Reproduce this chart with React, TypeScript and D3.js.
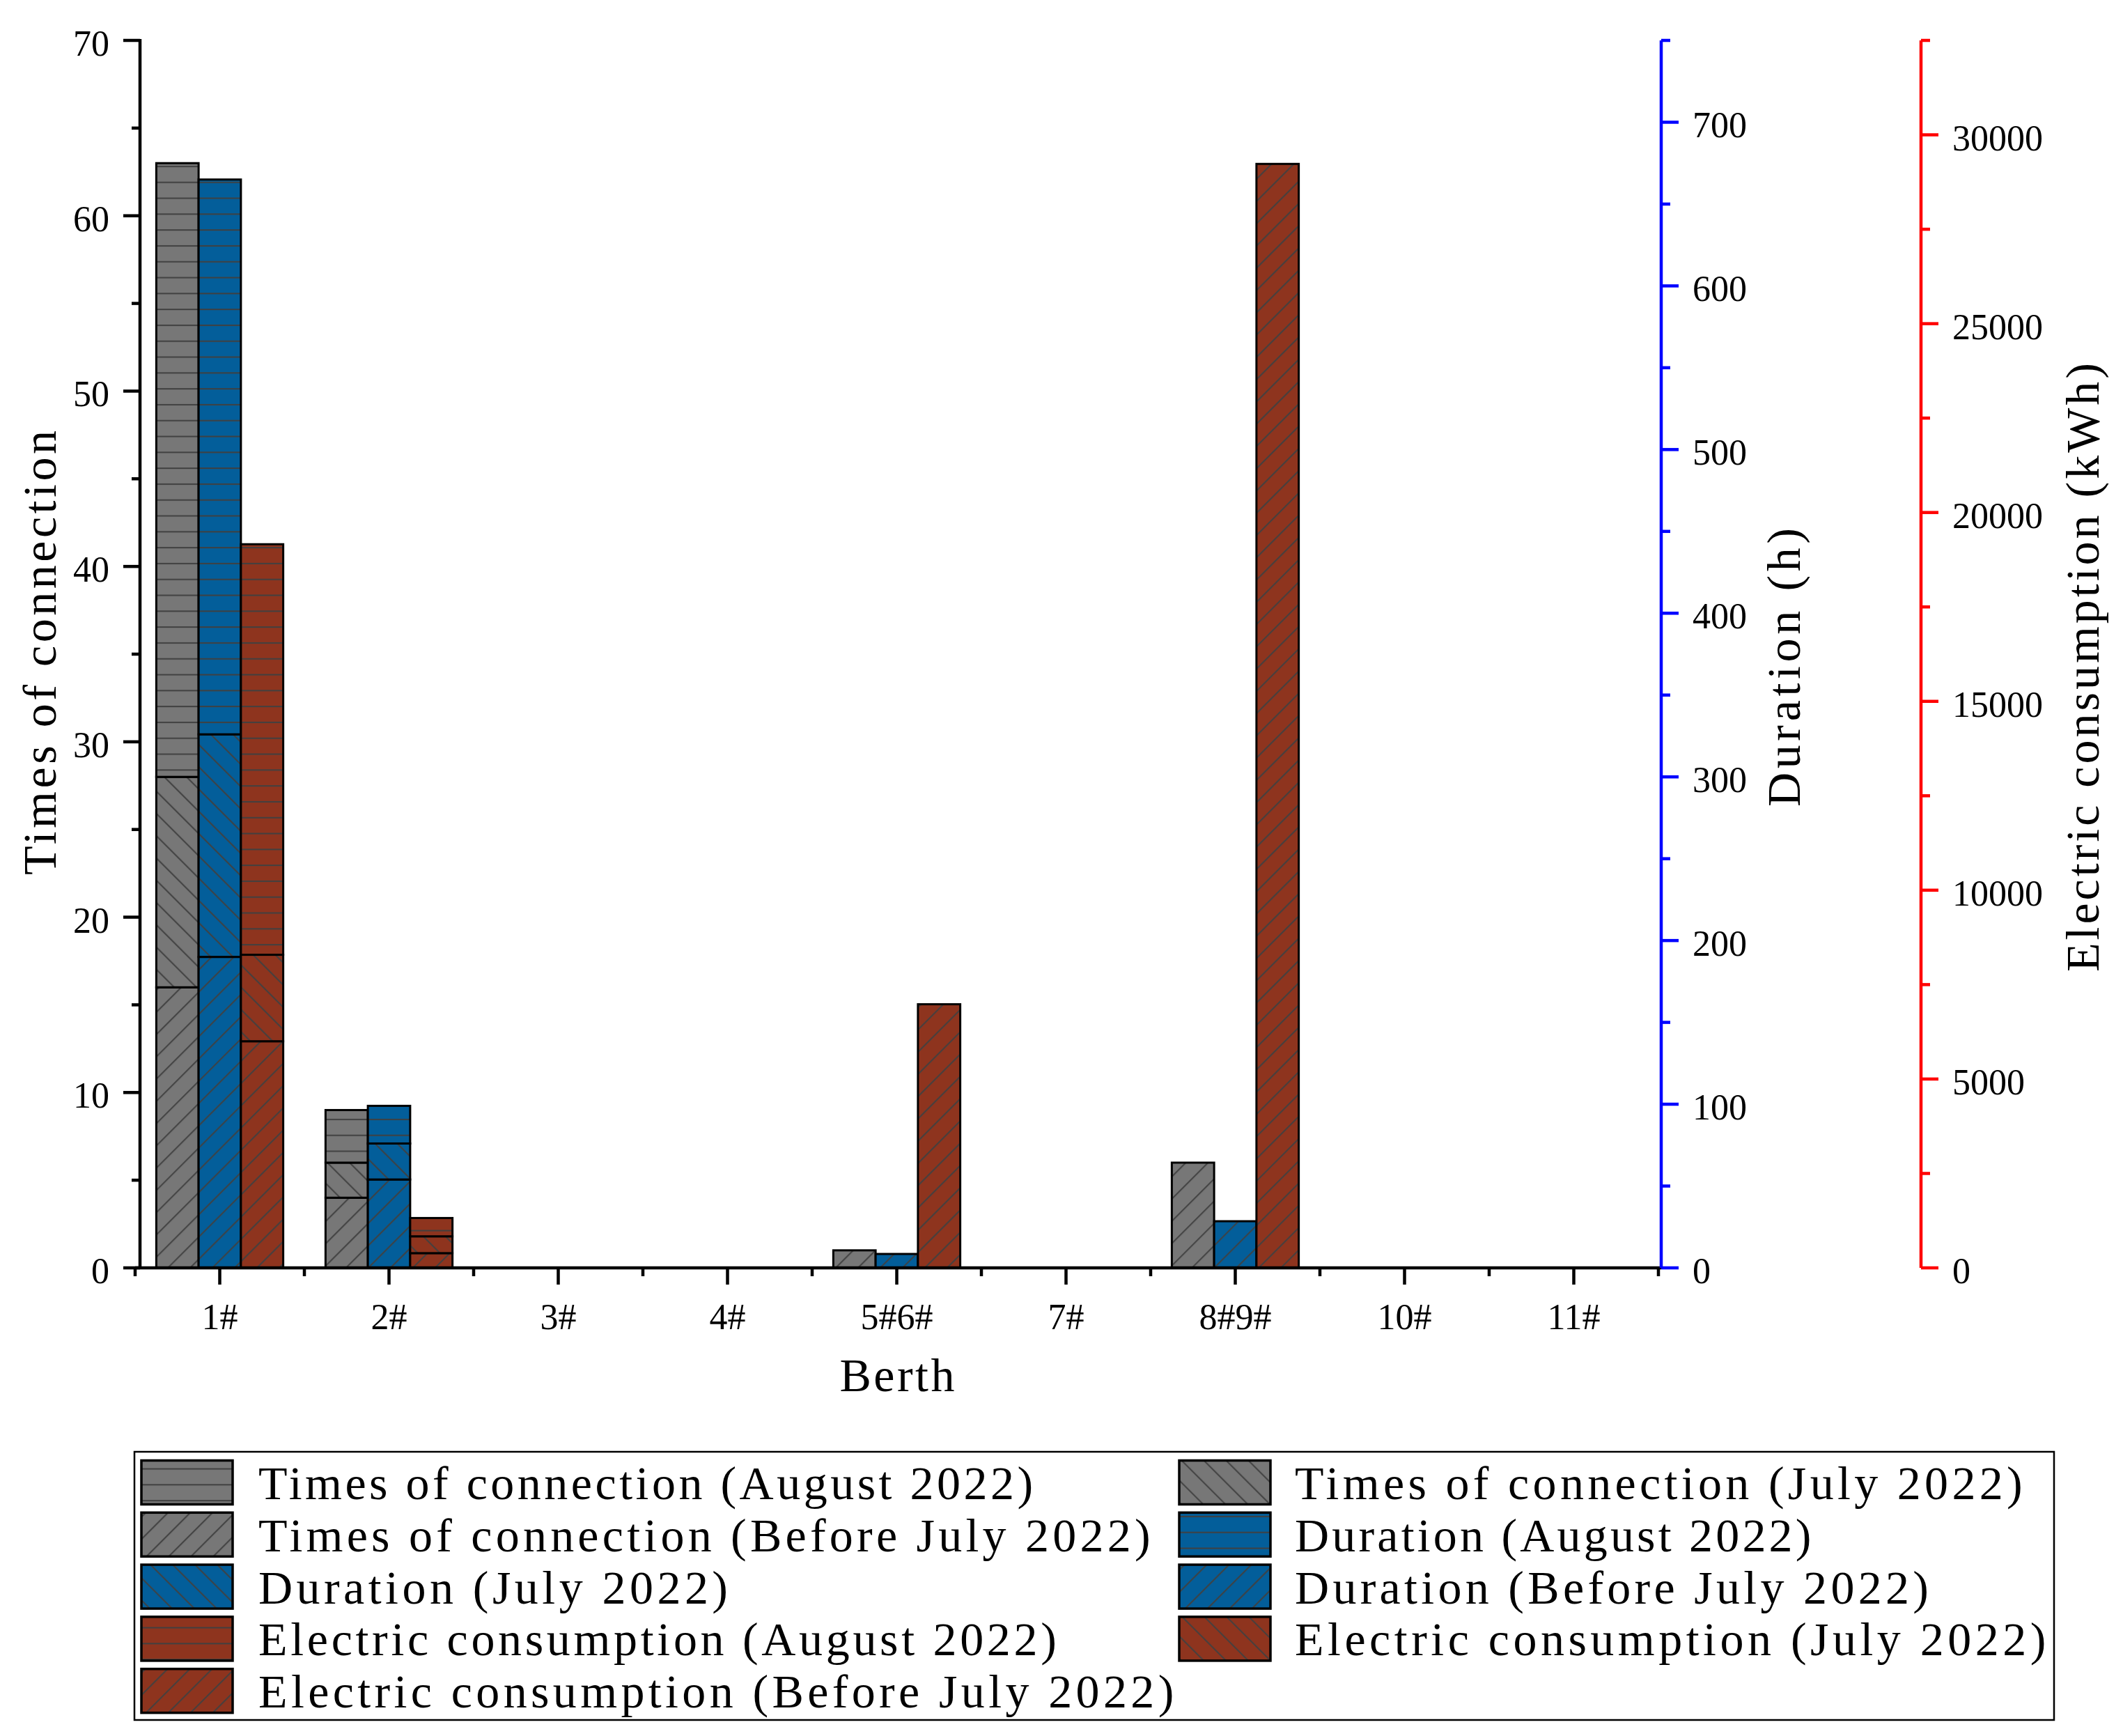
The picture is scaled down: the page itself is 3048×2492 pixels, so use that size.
import React from "react";
import * as d3 from "d3";

const categories = ["1#", "2#", "3#", "4#", "5#6#", "7#", "8#9#", "10#", "11#"];

// Times of connection
const timesBefore = [16, 4, 0, 0, 1, 0, 6, 0, 0];
const timesJuly = [12, 2, 0, 0, 0, 0, 0, 0, 0];
const timesAug = [35, 3, 0, 0, 0, 0, 0, 0, 0];
// Duration (h)
const durBefore = [190, 54, 0, 0, 8.5, 0, 28.5, 0, 0];
const durJuly = [136, 22, 0, 0, 0, 0, 0, 0, 0];
const durAug = [339, 23, 0, 0, 0, 0, 0, 0, 0];
// Electric consumption (kWh)
const elecBefore = [6000, 390, 0, 0, 6980, 0, 29230, 0, 0];
const elecJuly = [2290, 445, 0, 0, 0, 0, 0, 0, 0];
const elecAug = [10870, 485, 0, 0, 0, 0, 0, 0, 0];

const countTicks = [0, 10, 20, 30, 40, 50, 60, 70];
const durTicks = [0, 100, 200, 300, 400, 500, 600, 700];
const elecTicks = [0, 5000, 10000, 15000, 20000, 25000, 30000];

const legendLabels = [
  "Times of connection (August 2022)",
  "Times of connection (July 2022)",
  "Times of connection (Before July 2022)",
  "Duration (August 2022)",
  "Duration (July 2022)",
  "Duration (Before July 2022)",
  "Electric consumption (August 2022)",
  "Electric consumption (July 2022)",
  "Electric consumption (Before July 2022)",
];

const GRAY = "#777777";
const BLUE = "#035E9A";
const RED = "#8E341E";
const HATCH = "#404040";
const FONT = "'Liberation Serif', 'Times New Roman', serif";

const W = 3048;
const H = 2492;
const X0 = 194;
const X1 = 2381;
const YTOP = 58;
const YBOT = 1820;
const YAXIS_X = 201;
const BLUE_X = 2385;
const RED_X = 2758;

const x = d3.scaleBand<string>().domain(categories).range([X0, X1]).padding(0);
const yCount = d3.scaleLinear().domain([0, 70]).range([YBOT, YTOP]);
const yDur = d3.scaleLinear().domain([0, 750]).range([YBOT, YTOP]);
const yElec = d3.scaleLinear().domain([0, 32500]).range([YBOT, YTOP]);

const patterns = ["hatchH", "hatchBack", "hatchFwd"]; // August, July, Before July

type Group = { scale: d3.ScaleLinear<number, number>; color: string; series: number[][]; offset: number };

const groups: Group[] = [
  { scale: yCount, color: GRAY, series: [timesBefore, timesJuly, timesAug], offset: -1 },
  { scale: yDur, color: BLUE, series: [durBefore, durJuly, durAug], offset: 0 },
  { scale: yElec, color: RED, series: [elecBefore, elecJuly, elecAug], offset: 1 },
];
// series order: bottom Before (fwd "/"), middle July ("\"), top August (horizontal)
const segPattern = ["hatchFwd", "hatchBack", "hatchH"];

function Bars() {
  const bw = x.bandwidth() * 0.25;
  const out: React.ReactNode[] = [];
  groups.forEach((g, gi) => {
    categories.forEach((c, ci) => {
      const cx = (x(c) as number) + x.bandwidth() / 2;
      const left = cx + g.offset * bw - bw / 2;
      let base = 0;
      g.series.forEach((s, si) => {
        const v = s[ci];
        if (v <= 0) return;
        const y0 = g.scale(base);
        const y1 = g.scale(base + v);
        base += v;
        const key = `${gi}-${ci}-${si}`;
        out.push(
          <g key={key}>
            <rect x={left} y={y1} width={bw} height={y0 - y1} fill={g.color} />
            <rect x={left} y={y1} width={bw} height={y0 - y1} fill={`url(#${segPattern[si]})`} />
            <rect x={left} y={y1} width={bw} height={y0 - y1} fill="none" stroke="#000" strokeWidth={3} />
          </g>
        );
      });
    });
  });
  return <g>{out}</g>;
}

function App() {
  const minorCount = d3.range(0, 71, 5).filter((v) => v % 10 !== 0);
  const minorDur = d3.range(0, 751, 50).filter((v) => v % 100 !== 0);
  const minorElec = d3.range(0, 32501, 2500).filter((v) => v % 5000 !== 0);
  const bandEdges = d3.range(0, categories.length + 1).map((i) => X0 + i * x.step());

  const legendColors = [GRAY, GRAY, GRAY, BLUE, BLUE, BLUE, RED, RED, RED];
  const legendPats = ["hatchH", "hatchBack", "hatchFwd", "hatchH", "hatchBack", "hatchFwd", "hatchH", "hatchBack", "hatchFwd"];

  return (
    <svg
      width={W}
      height={H}
      viewBox={`0 0 ${W} ${H}`}
      style={{ position: "absolute", left: 0, top: 0, background: "#fff" }}
      xmlns="http://www.w3.org/2000/svg"
    >
      <defs>
        <pattern id="hatchH" patternUnits="userSpaceOnUse" width={20} height={22.8}>
          <line x1={0} y1={11} x2={20} y2={11} stroke={HATCH} strokeWidth={2} />
        </pattern>
        <pattern id="hatchFwd" patternUnits="userSpaceOnUse" width={22.6} height={20} patternTransform="rotate(45)">
          <line x1={11} y1={0} x2={11} y2={20} stroke={HATCH} strokeWidth={2} />
        </pattern>
        <pattern id="hatchBack" patternUnits="userSpaceOnUse" width={22.6} height={20} patternTransform="rotate(-45)">
          <line x1={11} y1={0} x2={11} y2={20} stroke={HATCH} strokeWidth={2} />
        </pattern>
      </defs>
      <rect x={0} y={0} width={W} height={H} fill="#fff" />

      <Bars />

      {/* Left axis */}
      <g stroke="#000" strokeWidth={4.5}>
        <line x1={YAXIS_X} y1={YTOP - 2} x2={YAXIS_X} y2={YBOT + 2} />
        <line x1={X0} y1={YBOT} x2={BLUE_X} y2={YBOT} />
        {countTicks.map((t) => (
          <line key={`ct${t}`} x1={YAXIS_X - 24} y1={yCount(t)} x2={YAXIS_X} y2={yCount(t)} />
        ))}
        {minorCount.map((t) => (
          <line key={`cm${t}`} x1={YAXIS_X - 12} y1={yCount(t)} x2={YAXIS_X} y2={yCount(t)} />
        ))}
        {categories.map((c) => {
          const cx = (x(c) as number) + x.bandwidth() / 2;
          return <line key={`xt${c}`} x1={cx} y1={YBOT} x2={cx} y2={YBOT + 24} />;
        })}
        {bandEdges.map((e, i) => (
          <line key={`xm${i}`} x1={e} y1={YBOT} x2={e} y2={YBOT + 12} />
        ))}
      </g>
      <g fontFamily={FONT} fontSize={52} fill="#000">
        {countTicks.map((t) => (
          <text key={`cl${t}`} x={157} y={yCount(t) + 22} textAnchor="end">
            {t}
          </text>
        ))}
        {categories.map((c) => (
          <text key={`xl${c}`} x={(x(c) as number) + x.bandwidth() / 2} y={1908} textAnchor="middle">
            {c}
          </text>
        ))}
      </g>

      {/* Blue axis */}
      <g stroke="#0000FF" strokeWidth={4.5}>
        <line x1={BLUE_X} y1={YTOP} x2={BLUE_X} y2={YBOT} />
        {durTicks.map((t) => (
          <line key={`dt${t}`} x1={BLUE_X} y1={yDur(t)} x2={BLUE_X + 25} y2={yDur(t)} />
        ))}
        {minorDur.map((t) => (
          <line key={`dm${t}`} x1={BLUE_X} y1={yDur(t)} x2={BLUE_X + 13} y2={yDur(t)} />
        ))}
      </g>
      <g fontFamily={FONT} fontSize={52} fill="#000">
        {durTicks.map((t) => (
          <text key={`dl${t}`} x={2430} y={yDur(t) + 22}>
            {t}
          </text>
        ))}
      </g>

      {/* Red axis */}
      <g stroke="#FF0000" strokeWidth={4.5}>
        <line x1={RED_X} y1={YTOP} x2={RED_X} y2={YBOT} />
        {elecTicks.map((t) => (
          <line key={`et${t}`} x1={RED_X} y1={yElec(t)} x2={RED_X + 25} y2={yElec(t)} />
        ))}
        {minorElec.map((t) => (
          <line key={`em${t}`} x1={RED_X} y1={yElec(t)} x2={RED_X + 13} y2={yElec(t)} />
        ))}
      </g>
      <g fontFamily={FONT} fontSize={52} fill="#000">
        {elecTicks.map((t) => (
          <text key={`el${t}`} x={2803} y={yElec(t) + 22}>
            {t}
          </text>
        ))}
      </g>

      {/* Axis titles */}
      <g fontFamily={FONT} fontSize={68} fill="#000">
        <text transform={`translate(80, 937) rotate(-90)`} textAnchor="middle" textLength={638}>
          Times of connection
        </text>
        <text x={1288} y={1997} textAnchor="middle" textLength={165}>
          Berth
        </text>
        <text transform={`translate(2584, 958) rotate(-90)`} textAnchor="middle" textLength={400}>
          Duration (h)
        </text>
        <text transform={`translate(3013, 958) rotate(-90)`} textAnchor="middle" textLength={874}>
          Electric consumption (kWh)
        </text>
      </g>

      {/* Legend */}
      <rect x={193} y={2084} width={2949 - 193} height={2469 - 2084} fill="none" stroke="#000" strokeWidth={2.5} />
      {legendLabels.map((lab, i) => {
        const col = i % 2;
        const row = Math.floor(i / 2);
        const cy = 2128 + row * 74.8;
        const sx = col === 0 ? 203 : 1693;
        const tx = col === 0 ? 371 : 1859;
        return (
          <g key={`lg${i}`}>
            <rect x={sx} y={cy - 31.5} width={131} height={63} fill={legendColors[i]} />
            <rect x={sx} y={cy - 31.5} width={131} height={63} fill={`url(#${legendPats[i]})`} />
            <rect x={sx} y={cy - 31.5} width={131} height={63} fill="none" stroke="#000" strokeWidth={3.5} />
            <text x={tx} y={cy + 24} fontFamily={FONT} fontSize={68} textLength={lab.length * 33.7}>
              {lab}
            </text>
          </g>
        );
      })}
    </svg>
  );
}

export default App;
